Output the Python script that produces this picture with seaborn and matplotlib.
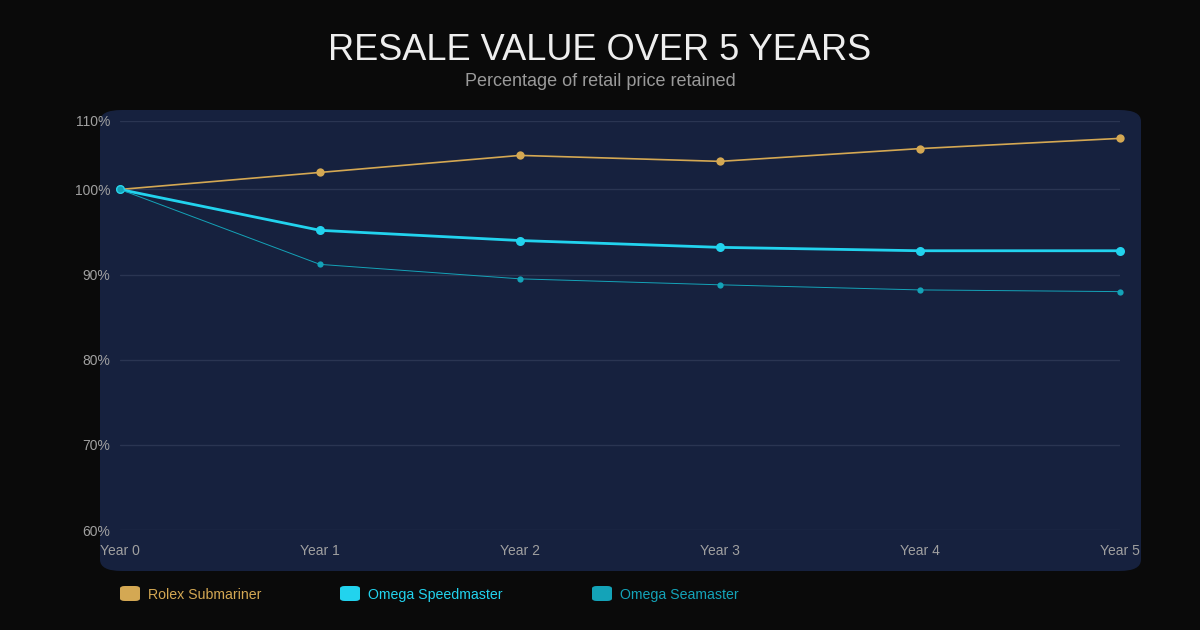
import pandas as pd
import matplotlib
matplotlib.use("Agg")
import matplotlib.pyplot as plt
from matplotlib.patches import FancyBboxPatch
import seaborn as sns

# ---------------------------
# Data
# ---------------------------
years = ["Year 0", "Year 1", "Year 2", "Year 3", "Year 4", "Year 5"]
rolex_submariner = [100.0, 102.0, 104.0, 103.3, 104.8, 106.0]
omega_speedmaster = [100.0, 95.2, 94.0, 93.2, 92.8, 92.8]
omega_seamaster = [100.0, 91.2, 89.5, 88.8, 88.2, 88.0]

series_names = ["Rolex Submariner", "Omega Speedmaster", "Omega Seamaster"]
series_values = [rolex_submariner, omega_speedmaster, omega_seamaster]
y_ticks = [60, 70, 80, 90, 100, 108.1]
y_tick_labels = ["60%", "70%", "80%", "90%", "100%", "110%"]

colors = ["#d4a853", "#22d3ee", "#14a3b8"]
widths = [1.2, 2.0, 0.7]
marker_sizes = [6, 6.5, 4.5]

W, H = 1200, 630
BG = "#0a0a0a"
PANEL = "#16213e"
GRID = "#2a3552"
TICK = "#a0a0a0"

df = pd.concat([
    pd.DataFrame({"Year": range(len(years)), "Retained": vals, "Model": name})
    for name, vals in zip(series_names, series_values)
])

sns.set_style("dark")
plt.rcParams["font.family"] = ["Liberation Sans", "DejaVu Sans"]

fig = plt.figure(figsize=(W / 100, H / 100), dpi=100, facecolor=BG)

# rounded panel behind the plot
panel = FancyBboxPatch((100 / W, 1 - 571 / H), 1041 / W, 461 / H,
                       boxstyle="round,pad=0,rounding_size=0.018",
                       transform=fig.transFigure, facecolor=PANEL,
                       edgecolor="none", zorder=-5)
fig.patches.append(panel)

ax = fig.add_axes([120 / W, 1 - 530 / H, 1000 / W, 409.5 / H])
ax.set_zorder(5)
ax.set_facecolor("none")

for i, name in enumerate(series_names):
    sub = df[df["Model"] == name]
    sns.lineplot(data=sub, x="Year", y="Retained", ax=ax, color=colors[i],
                 linewidth=widths[i], marker="o", markersize=marker_sizes[i],
                 markeredgewidth=0, legend=False, zorder=3 + i, clip_on=False)

ax.set_xlim(0, 5)
ax.set_ylim(60, 108.1)
ax.set_xticks(range(len(years)))
ax.set_xticklabels(years)
ax.set_yticks(y_ticks)
ax.set_yticklabels(y_tick_labels)
ax.grid(axis="y", color=GRID, linewidth=1)
ax.grid(axis="x", visible=False)
ax.tick_params(axis="both", colors=TICK, labelsize=10, length=0)
ax.tick_params(axis="x", pad=10)
ax.tick_params(axis="y", pad=7)
ax.set_xlabel("")
ax.set_ylabel("")
for s in ax.spines.values():
    s.set_visible(False)

# titles
fig.text(0.5, 1 - 50 / H, "RESALE VALUE OVER 5 YEARS", ha="center", va="center",
         color="#eeeeee", fontsize=26)
fig.text(0.5, 1 - 82 / H, "Percentage of retail price retained", ha="center",
         va="center", color="#9a9a9a", fontsize=13)

# legend
legend_x = [120, 340, 592]
for i, name in enumerate(series_names):
    box = FancyBboxPatch((legend_x[i] / W, 1 - 601 / H), 20 / W, 15 / H,
                         boxstyle="round,pad=0,rounding_size=0.004",
                         transform=fig.transFigure, facecolor=colors[i],
                         edgecolor="none")
    fig.patches.append(box)
    fig.text((legend_x[i] + 28) / W, 1 - 595 / H, name, ha="left", va="center",
             color=colors[i], fontsize=10.2)

fig.savefig("out.png", dpi=100, facecolor=BG)
